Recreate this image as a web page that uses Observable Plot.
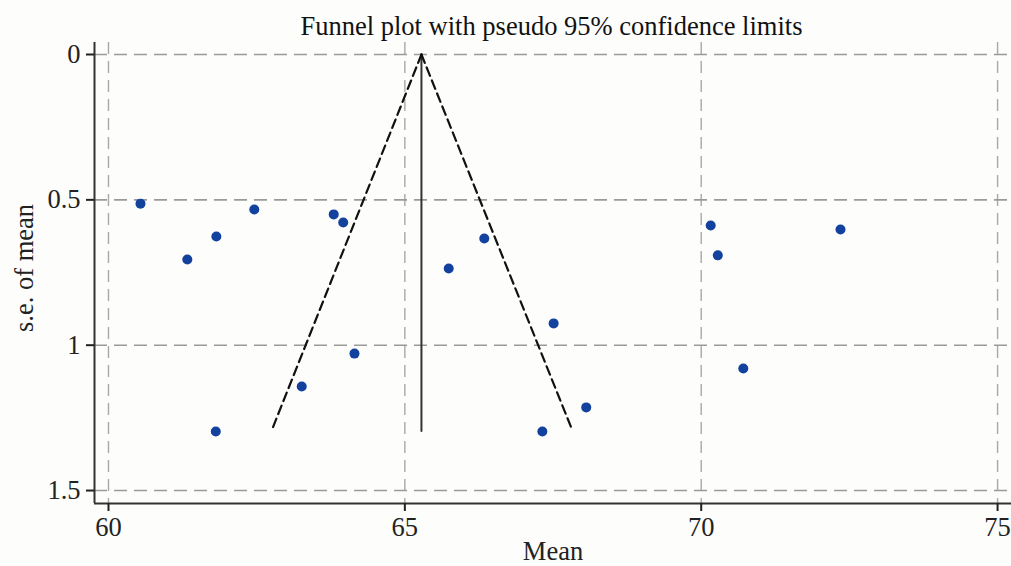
<!DOCTYPE html>
<html>
<head>
<meta charset="utf-8">
<script src="https://cdn.jsdelivr.net/npm/d3@7"></script>
<script src="https://cdn.jsdelivr.net/npm/@observablehq/plot@0.6"></script>
<style>
  html, body { margin: 0; padding: 0; background: #fdfdfb; }
  #wrap { position: relative; width: 1011px; height: 566px; }
  #title { position: absolute; top: 0; left: 0; height: 42px; box-sizing: border-box; padding-top: 13px; padding-left: 92px; width: 1011px;
    text-align: center; font-family: "Liberation Serif", serif; font-size: 26.5px; line-height: 26.5px; color: #111; white-space: nowrap; z-index: 2; }
  svg { display: block; }
</style>
</head>
<body>
<div id="wrap">
<div id="chart"></div>
<div id="title">Funnel plot with pseudo 95% confidence limits</div>
</div>
<script>
// Study points: mean and s.e. of mean
const means = [60.54, 61.33, 61.82, 62.46, 63.80, 63.96, 63.26, 64.15, 61.81, 65.74, 66.34, 67.51, 68.06, 67.32, 70.16, 70.28, 70.71, 72.35];
const ses   = [0.513, 0.705, 0.626, 0.533, 0.550, 0.578, 1.142, 1.029, 1.297, 0.736, 0.633, 0.925, 1.214, 1.297, 0.588, 0.691, 1.080, 0.602];

// Funnel (pseudo 95% limits)
const pooledMean = 65.28;
const funnelTopSe = 0;
const funnelBottomSe = 1.295;
const lowerLimitAtBottom = 62.75;
const upperLimitAtBottom = 67.83;

// Axis ticks
const xTicks = [60, 65, 70, 75];
const yTicks = [0, 0.5, 1, 1.5];
const yTickLabels = ["0", "0.5", "1", "1.5"];

const points = means.map((m, i) => ({mean: m, se: ses[i]}));
const leftLine = [{x: pooledMean, y: funnelTopSe}, {x: lowerLimitAtBottom, y: funnelBottomSe}];
const rightLine = [{x: pooledMean, y: funnelTopSe}, {x: upperLimitAtBottom, y: funnelBottomSe}];
const centerLine = [{x: pooledMean, y: funnelBottomSe}, {x: pooledMean, y: funnelTopSe}];

const xDomain = [59.764, 75.235];
const yDomain = [-0.0413, 1.5446];

const chart = Plot.plot({
  width: 1011,
  height: 566,
  marginTop: 42,
  marginBottom: 63,
  marginLeft: 94,
  marginRight: 0,
  style: { fontFamily: "Liberation Serif, serif", fontSize: "26.5px", background: "#fdfdfb", color: "#222" },
  x: { domain: xDomain, label: null },
  y: { domain: yDomain, reverse: true, label: null },
  marks: [
    Plot.ruleX(xTicks, { stroke: "#a8a8a8", strokeWidth: 1.4, strokeDasharray: "12,7" }),
    Plot.ruleY(yTicks, { stroke: "#9a9a9a", strokeWidth: 1.6, strokeDasharray: "13,7" }),
    Plot.ruleX([xDomain[0]], { stroke: "#333", strokeWidth: 2 }),
    Plot.ruleY([yDomain[1]], { stroke: "#333", strokeWidth: 2 }),
    Plot.axisX({ ticks: xTicks, tickSize: 8, tickPadding: 6, tickFormat: d => String(d), strokeWidth: 2, color: "#222", label: null, fontSize: 26.5 }),
    Plot.axisY({ ticks: yTicks, tickSize: 8, tickPadding: 6, tickFormat: (d, i) => yTickLabels[i], strokeWidth: 2, color: "#222", label: null, fontSize: 26.5 }),
    Plot.line(centerLine, { x: "x", y: "y", stroke: "#333", strokeWidth: 2 }),
    Plot.line(leftLine, { x: "x", y: "y", stroke: "#111", strokeWidth: 2.2, strokeDasharray: "9,5" }),
    Plot.line(rightLine, { x: "x", y: "y", stroke: "#111", strokeWidth: 2.2, strokeDasharray: "9,5" }),
    Plot.dot(points, { x: "mean", y: "se", r: 5, fill: "#12419e", stroke: "none" }),
    Plot.text(["Mean"], { frameAnchor: "bottom", textAnchor: "middle", lineAnchor: "middle", dy: 48, fill: "#222", fontSize: 26.5 }),
    Plot.text(["s.e. of mean"], { frameAnchor: "left", textAnchor: "middle", lineAnchor: "middle", rotate: -90, dx: -70, dy: -5, fill: "#222", fontSize: 26.5 })
  ]
});
document.getElementById("chart").appendChild(chart);
</script>
</body>
</html>
